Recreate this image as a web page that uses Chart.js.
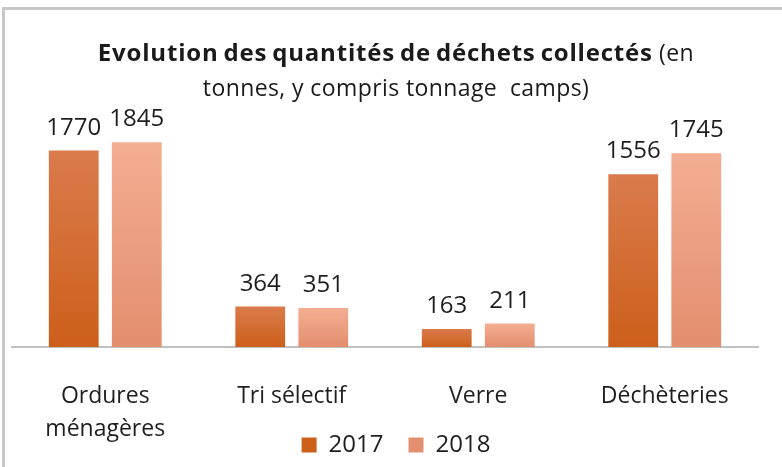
<!DOCTYPE html>
<html>
<head>
<meta charset="utf-8">
<script src="https://cdn.jsdelivr.net/npm/chart.js@4/dist/chart.umd.min.js"></script>
<style>
  body { margin: 0; background: #fff; width: 782px; height: 467px; overflow: hidden; position: relative; }
  #frame { position: absolute; left: 2px; top: 7px; width: 800px; height: 500px; border: 3px solid #c8c8c8; box-sizing: border-box; }
  #title { position: absolute; left: 0; top: 34px; width: 792px; text-align: center; font-family: "Open Sans", sans-serif; color: #1a1a1a; font-size: 23px; letter-spacing: 0.4px; line-height: 35px; }
  #title b { font-weight: 700; font-size: 24px; letter-spacing: 0.8px; word-spacing: -2px; }
  #chart { position: absolute; left: 0; top: 0; }
</style>
</head>
<body>
<div id="frame"></div>
<canvas id="chart" width="782" height="467"></canvas>
<div id="title"><b>Evolution des quantités de déchets collectés</b> (en<br>tonnes, y compris tonnage&nbsp; camps)</div>
<script>
var categories = [["Ordures", "ménagères"], "Tri sélectif", "Verre", "Déchèteries"];
var years = ["2017", "2018"];
var values2017 = [1770, 364, 163, 1556];
var values2018 = [1845, 351, 211, 1745];

var colors = {
    "2017": ["#da7b4c", "#cc5f1a", "#d0661f"],
    "2018": ["#f3ae92", "#e38e6e", "#f0a584"]
};

function barFill(year) {
    return function(ctx) {
        var c = colors[year];
        if (ctx.type !== "data") {
            return c[2];
        }
        var chart = ctx.chart;
        var yScale = chart.scales.y;
        if (!yScale) {
            return c[2];
        }
        var top = yScale.getPixelForValue(ctx.raw);
        var base = yScale.getPixelForValue(0);
        if (!isFinite(top) || !isFinite(base) || top === base) {
            return c[2];
        }
        var grad = chart.ctx.createLinearGradient(0, top, 0, base);
        grad.addColorStop(0, c[0]);
        grad.addColorStop(1, c[1]);
        return grad;
    };
}

var valueLabels = {
    id: "valueLabels",
    afterDatasetsDraw: function(chart) {
        var ctx = chart.ctx;
        ctx.save();
        ctx.font = "24px 'Open Sans'";
        ctx.fillStyle = "#1e1e1e";
        ctx.textAlign = "center";
        ctx.textBaseline = "alphabetic";
        chart.data.datasets.forEach(function(ds, i) {
            chart.getDatasetMeta(i).data.forEach(function(bar, j) {
                ctx.fillText(ds.data[j], bar.x, bar.y - 16);
            });
        });
        ctx.restore();
    }
};

new Chart(document.getElementById("chart"), {
    type: "bar",
    data: {
        labels: categories,
        datasets: [{
            label: years[0],
            data: values2017,
            backgroundColor: barFill("2017")
        }, {
            label: years[1],
            data: values2018,
            backgroundColor: barFill("2018")
        }]
    },
    options: {
        responsive: false,
        animation: false,
        devicePixelRatio: 1,
        categoryPercentage: 0.676,
        barPercentage: 0.79,
        layout: {
            padding: { top: 125, left: 12, right: 2, bottom: 0 }
        },
        scales: {
            x: {
                grid: { display: false, drawTicks: false },
                border: { display: true, color: "#c0c0c0", width: 2 },
                ticks: {
                    padding: 33,
                    maxRotation: 0,
                    color: "#1e1e1e",
                    font: { family: "'Open Sans'", size: 23, lineHeight: 1.43 }
                },
                afterFit: function(scale) {
                    // legend sits next to the second label line, so shrink the axis
                    // and let its labels run past its own box
                    var legendH = scale.chart.legend ? scale.chart.legend.height : 0;
                    scale.height = 467 - 347 - legendH;
                    scale._computeLabelArea = function() {};
                }
            },
            y: {
                display: false,
                min: 0,
                max: 2000
            },
            y2: {
                position: "right",
                display: true,
                grid: { display: false },
                border: { display: false },
                ticks: { display: false },
                afterFit: function(scale) {
                    scale.width = 22;
                }
            }
        },
        plugins: {
            legend: {
                position: "bottom",
                labels: {
                    boxWidth: 15,
                    boxHeight: 15,
                    padding: 25,
                    color: "#1e1e1e",
                    font: { family: "'Open Sans'", size: 24 }
                }
            },
            tooltip: { enabled: false }
        }
    },
    plugins: [valueLabels]
});
</script>
</body>
</html>
